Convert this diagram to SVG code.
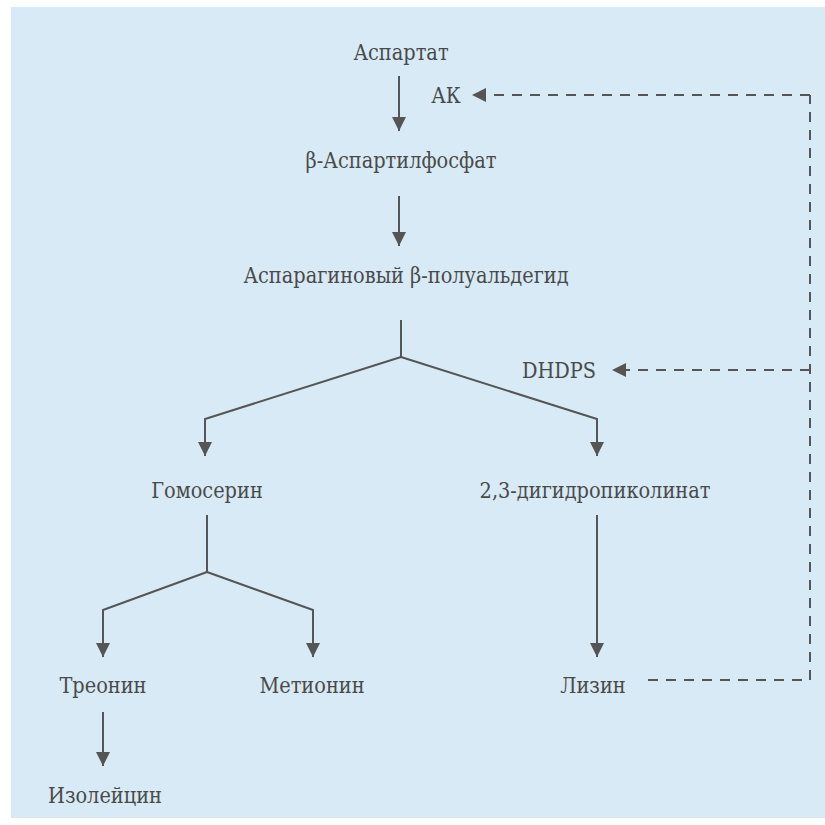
<svg xmlns="http://www.w3.org/2000/svg" width="825" height="825" viewBox="0 0 825 825">
<style>
.t{font-family:'DejaVu Serif Condensed','DejaVu Serif','Liberation Serif',serif;font-stretch:condensed;font-size:21.5px;fill:#4a4a4a;text-anchor:middle}
.ln{stroke:#555;stroke-width:2;fill:none}
.ds{stroke:#555;stroke-width:2;fill:none;stroke-dasharray:10,8}
</style>
<defs>
<marker id="ah" viewBox="0 0 10 10" refX="10" refY="5" markerWidth="7" markerHeight="7" markerUnits="strokeWidth" orient="auto">
<path d="M0,0 L10,5 L0,10 z" fill="#555"/>
</marker>
</defs>
<rect x="0" y="0" width="825" height="825" fill="#ffffff"/>
<rect x="11" y="7" width="814" height="811" fill="#d7eaf6"/>
<g id="connectors">
<line class="ln" x1="399" y1="76" x2="399" y2="131" marker-end="url(#ah)"/>
<line class="ln" x1="399" y1="196" x2="399" y2="246" marker-end="url(#ah)"/>
<polyline class="ln" points="401,320 401,357"/>
<polyline class="ln" points="401,357 205,419 205,456" marker-end="url(#ah)"/>
<polyline class="ln" points="401,357 597,419 597,456" marker-end="url(#ah)"/>
<polyline class="ln" points="207,515 207,572"/>
<polyline class="ln" points="207,572 103,610 103,657" marker-end="url(#ah)"/>
<polyline class="ln" points="207,572 313,610 313,657" marker-end="url(#ah)"/>
<line class="ln" x1="597" y1="515" x2="597" y2="657" marker-end="url(#ah)"/>
<line class="ln" x1="103" y1="712" x2="103" y2="766" marker-end="url(#ah)"/>
<polyline class="ds" points="648,680 810,680 810,95"/>
<line class="ds" x1="810" y1="95" x2="472" y2="95" marker-end="url(#ah)"/>
<line class="ds" x1="810" y1="370" x2="612" y2="370" marker-end="url(#ah)"/>
</g>
<g id="n-aspartat"><text class="t" x="401" y="60">Аспартат</text></g>
<g id="n-ak"><text class="t" x="446" y="103">АК</text></g>
<g id="n-aspartylphosphate"><text class="t" x="401" y="168">β-Аспартилфосфат</text></g>
<g id="n-semialdehyde"><text class="t" x="406" y="283">Аспарагиновый β-полуальдегид</text></g>
<g id="n-dhdps"><text class="t" x="559" y="378">DHDPS</text></g>
<g id="n-homoserine"><text class="t" x="207" y="498">Гомосерин</text></g>
<g id="n-dihydropicolinate"><text class="t" x="595" y="498">2,3-дигидропиколинат</text></g>
<g id="n-threonine"><text class="t" x="103" y="693">Треонин</text></g>
<g id="n-methionine"><text class="t" x="312" y="693">Метионин</text></g>
<g id="n-lysine"><text class="t" x="593" y="693">Лизин</text></g>
<g id="n-isoleucine"><text class="t" x="105" y="803">Изолейцин</text></g>
</svg>
